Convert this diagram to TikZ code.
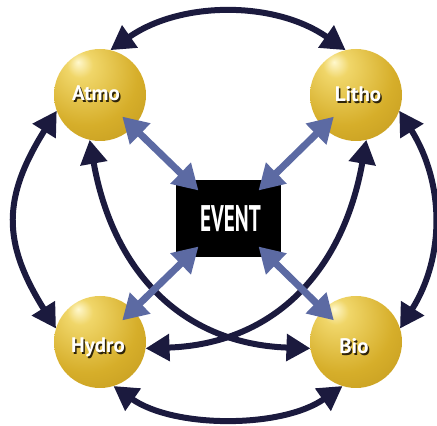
\documentclass[tikz,border=0pt]{standalone}
\usepackage{fontspec}
\setmainfont{PT Sans}
\newfontfamily\ballfont{PT Sans}
\newfontfamily\eventfont[FakeStretch=0.57]{PT Sans}
\usetikzlibrary{arrows.meta}

\definecolor{linkdark}{RGB}{27,26,62}
\definecolor{linkblue}{RGB}{92,106,163}
\definecolor{shadowbrown}{RGB}{45,35,10}
\definecolor{goldA}{RGB}{255,248,205}
\definecolor{goldB}{RGB}{240,214,105}
\definecolor{goldC}{RGB}{214,174,42}
\definecolor{goldD}{RGB}{180,138,22}
\definecolor{goldE}{RGB}{125,92,12}

% gold sphere with a highlight toward the upper left
\pgfdeclareradialshading{goldball}{\pgfpoint{-12bp}{18bp}}{%
  color(0bp)=(goldA); color(7bp)=(goldB); color(28bp)=(goldC);
  color(58bp)=(goldD); color(76bp)=(goldE)}

\begin{document}
\begin{tikzpicture}[x=1pt,y=1pt,
  sphere/.style={circle, minimum size=92pt, inner sep=0pt, outer sep=0pt,
    shade, shading=goldball},
  balltext/.style={anchor=base, inner sep=0pt, text=white,
    font=\ballfont\bfseries\fontsize{21}{21}\selectfont},
  ballshadow/.style={balltext, text=shadowbrown},
  eventbox/.style={rectangle, fill=black, minimum width=105pt,
    minimum height=77pt, inner sep=0pt, text=white,
    font=\eventfont\bfseries\fontsize{37}{37}\selectfont},
  cycle link/.style={draw=linkdark, line width=6pt,
    {Triangle[length=24pt,width=26pt]}-{Triangle[length=24pt,width=26pt]}},
  event link/.style={draw=linkblue, line width=7pt, shorten <=-15pt,
    {Triangle[length=25pt,width=28pt]}-{Triangle[length=25pt,width=28pt]}},
]
\useasboundingbox (0,0) rectangle (437,426);

% the four spheres and the central event box
\node[sphere] (atmo)  at (100,331) {};
\node[sphere] (litho) at (356,331) {};
\node[sphere] (hydro) at (100,84) {};
\node[sphere] (bio)   at (356,84) {};
\node[eventbox] (event) at (228.5,207.5) {\hspace*{4pt}EVENT};

% corners of the event box where the blue links end
\path (event.center) ++(-30,28)  coordinate (ev-nw);
\path (event.center) ++(30,28)   coordinate (ev-ne);
\path (event.center) ++(-30,-28) coordinate (ev-sw);
\path (event.center) ++(30,-28)  coordinate (ev-se);

% outer cycle
\draw[cycle link] (atmo.77)  to[out=35,in=145,looseness=0.94] (litho.103);
\draw[cycle link] (atmo.200) to[out=238,in=122,looseness=1.2] (hydro.163);
\draw[cycle link] (litho.-20) to[out=302,in=58,looseness=1.0] (bio.17);
\draw[cycle link] (hydro.287) to[out=-35,in=-145,looseness=0.83] (bio.253);

% crossing diagonals
\draw[cycle link] (atmo.257)  to[out=280,in=178,looseness=1.1] (bio.188);
\draw[cycle link] (litho.283) to[out=260,in=2,looseness=1.1] (hydro.-8);

% links to the event
\draw[event link] (atmo)  -- (ev-nw);
\draw[event link] (litho) -- (ev-ne);
\draw[event link] (hydro) -- (ev-sw);
\draw[event link] (bio)   -- (ev-se);

% sphere labels with drop shadow
\node[ballshadow] (atmo-sh)  at ([shift={(-2.5,-7.5)}]atmo.center)  {Atmo};
\node[balltext]   (atmo-lb)  at ([shift={(-4,-6)}]atmo.center)      {Atmo};
\node[ballshadow] (litho-sh) at ([shift={(3.5,-8.5)}]litho.center)  {Litho};
\node[balltext]   (litho-lb) at ([shift={(2,-7)}]litho.center)      {Litho};
\node[ballshadow] (hydro-sh) at ([shift={(-0.5,-12.5)}]hydro.center) {Hydro};
\node[balltext]   (hydro-lb) at ([shift={(-2,-11)}]hydro.center)    {Hydro};
\node[ballshadow] (bio-sh)   at ([shift={(-0.5,-13.5)}]bio.center)  {Bio};
\node[balltext]   (bio-lb)   at ([shift={(-2,-12)}]bio.center)      {Bio};
\end{tikzpicture}
\end{document}
